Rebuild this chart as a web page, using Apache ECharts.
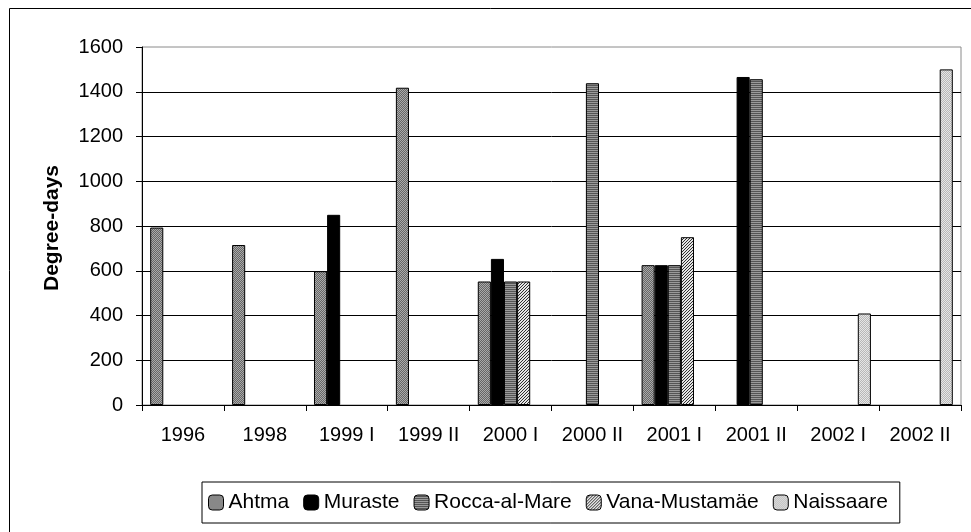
<!DOCTYPE html>
<html>
<head>
<meta charset="utf-8">
<script src="https://cdn.jsdelivr.net/npm/echarts@6/dist/echarts.min.js"></script>
<style>
html,body{margin:0;padding:0;background:#fff;}
#chart{width:971px;height:532px;}
</style>
</head>
<body>
<div id="chart"></div>
<script>
const categories = ['1996','1998','1999 I','1999 II','2000 I','2000 II','2001 I','2001 II','2002 I','2002 II'];
const seriesNames = ['Ahtma','Muraste','Rocca-al-Mare','Vana-Mustamäe','Naissaare'];
const ahtma     = [793, 715, 598, 1418, 552, null, 625, null, null, null];
const muraste   = [null, null, 850, null, 653, null, 625, 1466, null, null];
const rocca     = [null, null, null, null, 552, 1438, 625, 1456, null, null];
const vana      = [null, null, null, null, 552, null, 750, null, null, null];
const naissaare = [null, null, null, null, null, null, null, null, 409, 1500];
const yTicks = {min: 0, max: 1600, interval: 200};

function makePattern(size, fn) {
  const c = document.createElement('canvas');
  c.width = size; c.height = size;
  const ctx = c.getContext('2d');
  for (let y = 0; y < size; y++) {
    for (let x = 0; x < size; x++) {
      ctx.fillStyle = fn(x, y);
      ctx.fillRect(x, y, 1, 1);
    }
  }
  return {image: c, repeat: 'repeat'};
}
const patAhtma = makePattern(2, (x, y) => ((x + y) % 2 ? '#666666' : '#aaaaaa'));
const patMuraste = '#000000';
const patRocca = makePattern(2, (x, y) => (y % 2 ? '#555555' : '#9a9a9a'));
const patVana = makePattern(3, (x, y) => (((x + y) % 3 === 0) ? '#303030' : '#e6e6e6'));
const patNaissaare = makePattern(2, (x, y) => ((x + y) % 2 ? '#b8b8b8' : '#e6e6e6'));

const fills = [patAhtma, patMuraste, patRocca, patVana, patNaissaare];
const values = [ahtma, muraste, rocca, vana, naissaare];

const chart = echarts.init(document.getElementById('chart'), null, {renderer: 'canvas'});
const font = '"Liberation Sans", Arial, sans-serif';

const option = {
  backgroundColor: '#ffffff',
  animation: false,
  textStyle: {fontFamily: font},
  grid: {
    left: 142, right: 10, top: 47, bottom: 127,
    show: true, borderColor: '#8a8a8a', borderWidth: 1, backgroundColor: '#ffffff',
    containLabel: false
  },
  legend: {
    data: seriesNames,
    left: 202, top: 482,
    orient: 'horizontal',
    itemWidth: 15, itemHeight: 15, itemGap: 14,
    padding: [10, 12, 10, 6],
    borderColor: '#000', borderWidth: 1,
    textStyle: {fontFamily: font, fontSize: 21, color: '#000'},
    itemStyle: {borderColor: '#000', borderWidth: 1}
  },
  xAxis: {
    type: 'category',
    data: categories,
    axisLine: {lineStyle: {color: '#000', width: 1}},
    axisTick: {show: true, length: 6, lineStyle: {color: '#000'}},
    axisLabel: {color: '#000', fontSize: 20, fontFamily: font, margin: 20, interval: 0},
    splitLine: {show: false}
  },
  yAxis: {
    type: 'value',
    min: yTicks.min, max: yTicks.max, interval: yTicks.interval,
    axisLine: {show: true, lineStyle: {color: '#000', width: 1}},
    axisTick: {show: true, length: 6, lineStyle: {color: '#000'}},
    axisLabel: {color: '#000', fontSize: 20, fontFamily: font, margin: 19,
      formatter: (v) => String(v)},
    splitLine: {show: true, showMaxLine: false, lineStyle: {color: '#000', width: 1}}
  },
  graphic: [
    {
      type: 'rect', silent: true, z: 100,
      shape: {x: 9.5, y: 8.5, width: 1200, height: 1200},
      style: {fill: 'none', stroke: '#000', lineWidth: 1}
    },
    {
      type: 'text', silent: true, z: 100,
      x: 52, y: 228, rotation: Math.PI / 2,
      style: {
        text: 'Degree-days', fontFamily: font, fontSize: 21, fontWeight: 'bold',
        fill: '#000', align: 'center', verticalAlign: 'middle'
      }
    }
  ],
  series: seriesNames.map((name, i) => ({
    name: name,
    type: 'bar',
    data: values[i],
    barGap: '0%',
    barCategoryGap: '20%',
    itemStyle: {color: fills[i], borderColor: '#000', borderWidth: 1}
  }))
};
chart.setOption(option);
</script>
</body>
</html>
